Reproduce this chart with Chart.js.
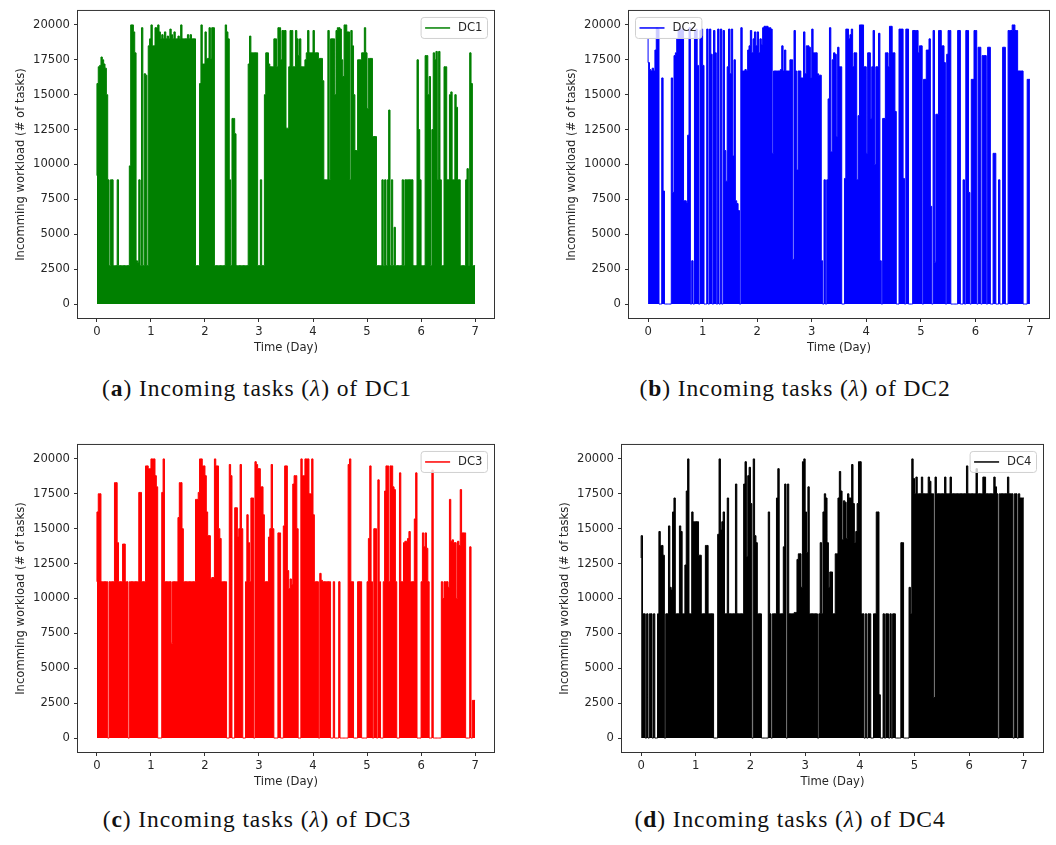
<!DOCTYPE html>
<html>
<head>
<meta charset="utf-8">
<script src="https://cdn.jsdelivr.net/npm/chart.js@4.4.1/dist/chart.umd.min.js"></script>
<style>
html,body{margin:0;padding:0;background:#fff;overflow:hidden;}
body{width:1056px;height:845px;position:relative;}
canvas{position:absolute;}
.cap{position:absolute;font-family:"Liberation Serif","Times New Roman",serif;font-size:23.5px;line-height:23px;color:#111;white-space:nowrap;transform:translateX(-50%);letter-spacing:0.9px;}
.cap b{font-weight:bold;}
</style>
</head>
<body>
<canvas id="cA" width="500" height="363" style="left:0px;top:0px;"></canvas>
<canvas id="cB" width="504" height="363" style="left:551px;top:0px;"></canvas>
<canvas id="cC" width="500" height="363" style="left:0px;top:434px;"></canvas>
<canvas id="cD" width="505" height="363" style="left:544px;top:434px;"></canvas>
<div class="cap" style="left:257px;top:377px;">(<b>a</b>) Incoming tasks (<i>λ</i>) of DC1</div>
<div class="cap" style="left:795px;top:377px;">(<b>b</b>) Incoming tasks (<i>λ</i>) of DC2</div>
<div class="cap" style="left:257px;top:808px;">(<b>c</b>) Incoming tasks (<i>λ</i>) of DC3</div>
<div class="cap" style="left:790px;top:808px;">(<b>d</b>) Incoming tasks (<i>λ</i>) of DC4</div>
<script>
// ---- data (sampled every 0.025 day = 40 samples per day) ----
const SAMPLES_PER_DAY = 40;
const xTickValues = [0, 1, 2, 3, 4, 5, 6, 7];
const yTickValues = [0, 2500, 5000, 7500, 10000, 12500, 15000, 17500, 20000];
const seriesNames = ['DC1', 'DC2', 'DC3', 'DC4'];
const xTitle = 'Time (Day)';
const yTitle = 'Incomming workload (# of tasks)';

const dc1 = [
  // day 0
  9200,15800,17000,17100,17700,17500,17200,16900,15000,8900,
  2750,8900,8900,2750,2750,2750,8900,2750,2750,2750,
  2750,2750,2750,2750,2750,9900,20000,20000,19500,18000,
  3100,3000,8900,2750,19800,2750,16500,16400,2750,18500,
  // day 1
  19000,20000,18500,18500,19800,19800,20000,19500,19000,19300,
  19000,19500,19000,19200,19000,19700,19300,19000,19500,19000,
  19000,19200,19000,20000,19000,19000,19000,19000,19300,19000,
  19300,19000,19000,19000,2750,2750,2750,15800,20000,17200,
  // day 2
  17200,19500,17600,17600,19800,17600,19800,19800,2750,2750,
  2750,2750,2750,2750,2750,2750,20000,19500,19000,8900,
  2750,13300,13300,12200,2750,2750,2750,2750,2750,2750,
  2750,2750,2750,17200,19200,18000,18000,18000,18000,18000,
  // day 3
  2750,2750,8900,2750,2750,15000,18000,18000,17200,17000,
  17000,17000,19000,19000,17000,19800,19800,17500,19600,19600,
  19600,12600,12600,17000,19600,19600,17000,17000,19600,19000,
  17800,19000,17000,17000,17000,17500,18000,19600,18000,18000,
  // day 4
  18000,19600,18000,18000,18000,17600,17600,17600,16000,8900,
  8900,8900,19600,8900,19000,19000,19000,15000,19600,19800,
  19800,19700,17500,16300,20000,20000,19500,19500,8900,19600,
  18500,15000,11000,11000,17500,17500,17500,18000,18000,19800,
  // day 5
  18000,14000,17600,17600,17600,12000,12000,12000,2750,2750,
  2750,2750,8900,2750,8900,2750,8900,13900,2750,8900,
  2750,5500,2750,2750,2750,2750,2750,8900,2750,8900,
  8900,8900,8900,8900,8900,2750,2750,2750,17500,12500,
  // day 6
  8900,2750,2750,2750,17800,17800,15000,16300,2750,12500,
  18000,17500,18100,8900,18100,8900,2750,2750,17000,17000,
  8900,8900,15000,15200,8900,8900,15000,14100,8900,8900,
  2750,2750,2750,2750,8900,9700,2750,18000,15800,2750
];

const dc2 = [
  // day 0
  19000,17300,16800,16700,16900,16700,18200,19800,19700,0,
  0,16200,8100,0,0,0,0,0,16200,8000,
  17800,18000,19000,19600,19800,19600,19700,7400,7400,7300,
  12100,19800,0,3100,0,19600,19700,17100,0,19600,
  // day 1
  19700,17100,0,0,19700,0,19700,17900,0,19600,
  18000,0,19700,0,19700,0,19600,11000,8800,17000,
  19700,16500,19700,10600,17500,7400,7200,6700,0,19800,
  16700,16700,16800,16700,18200,18500,19600,18000,19000,19500,
  // day 2
  18500,19500,18000,19000,18600,19800,19900,19900,19900,19800,
  19800,19700,10800,16700,16700,16700,16700,16700,16800,18500,
  16700,18200,16700,16700,16700,17500,17500,3200,19600,16700,
  9600,16700,16700,16200,16200,19500,16500,18500,18500,18400,
  // day 3
  16200,19700,18000,18000,18000,16500,16400,16400,3100,0,
  8900,0,8900,14700,19800,10900,17500,18000,17900,12000,
  18400,17000,17000,0,0,9000,19700,19700,19000,19300,
  19700,17000,18000,18000,8900,13500,20000,20000,20000,17000,
  // day 4
  17000,10800,18000,18000,13300,17000,19600,10000,17000,17000,
  19400,3100,0,13300,13300,18000,18000,17000,19900,19900,
  18000,18000,13800,0,0,19700,19700,19700,9000,0,
  19700,19700,0,0,0,19600,19600,19600,19600,18000,
  // day 5
  18500,18500,0,16100,16100,18200,18200,19000,7000,0,
  19600,3000,13600,13600,19600,19600,18500,18500,17300,0,
  17900,19600,19600,0,0,0,0,0,19600,19600,
  0,0,8900,0,19600,19600,8000,0,16100,16100,
  // day 6
  19600,19600,0,18400,18400,0,17800,17800,17800,0,
  18400,18400,0,0,10800,10800,0,0,8900,0,
  0,18400,18400,0,0,19600,19600,19600,20000,20000,
  19600,19600,16700,16700,16700,16700,0,0,0,16100
];

const dc3 = [
  // day 0
  11200,16200,17500,17500,11200,11200,11200,11200,11200,0,
  11200,11200,11200,11200,18300,18300,14000,11200,11200,11200,
  13900,13900,11200,11200,0,11200,11200,11200,11200,11200,
  11200,11200,17600,17600,11200,11200,11200,19500,19500,19300,
  // day 1
  19300,20000,20000,20000,18800,18000,0,0,0,17600,
  20000,11200,11200,11200,11200,11200,6800,11200,11200,11200,
  11200,15800,18300,18300,15000,11200,11200,11200,11200,11200,
  11200,11200,11200,11200,17100,17100,17600,20000,20000,19500,
  // day 2
  19500,18800,16200,14500,14500,11400,11500,11500,20000,19500,
  19500,15000,14300,11200,11200,11200,11200,0,0,19600,
  18800,0,0,16500,16500,14400,15000,19600,15000,0,
  0,11200,16000,14000,11200,17200,17200,0,19800,19600,
  // day 3
  19300,19300,18000,18000,16000,11200,11200,11200,14400,15000,
  19600,15000,0,0,0,14700,14700,0,0,15200,
  19500,19500,12000,10700,11400,11000,18200,18800,18800,15000,
  0,0,20000,18800,18800,20000,20000,20000,17500,17500,
  // day 4
  20000,16000,11200,11200,11200,0,11800,11300,11200,11200,
  11200,11200,11200,11200,0,0,11200,0,0,0,
  11200,0,0,0,0,0,0,19600,20000,11200,
  11200,0,0,0,11200,11200,11200,0,0,0,
  // day 5
  0,11200,14300,19500,11200,0,15000,15000,0,18500,
  11200,0,0,11200,17700,19500,19500,11200,19500,19500,
  18000,17800,11200,0,0,19000,11200,11200,14000,14100,
  14100,14300,14800,11200,11200,11200,15700,19000,0,0,
  // day 6
  0,11200,14700,13700,14700,13600,11200,0,0,19200,
  0,0,0,0,0,0,11200,10000,11200,11200,
  11200,10800,17100,14100,14200,14000,14000,10000,14100,13800,
  17800,14700,14700,14700,0,0,0,13700,0,2700
];

const dc4 = [
  // day 0
  12900,14500,8900,8900,0,8900,0,8900,8900,0,
  8900,0,0,8900,14800,13800,13800,13100,0,8900,
  8900,15200,10800,10600,16200,17200,8900,8900,8900,15200,
  14800,8900,8900,12400,17700,20000,8900,8900,16200,15500,
  // day 1
  15500,15500,15500,13100,13100,8900,8900,8900,13800,13800,
  8900,8900,8900,8900,0,0,0,14600,20000,14900,
  15500,16200,8900,8900,17200,8900,8900,8900,8900,8900,
  18200,8900,8900,8900,8900,8900,18200,19800,13000,18800,
  // day 2
  19400,16800,0,20000,14500,14000,8900,8900,8900,0,
  0,0,0,0,16200,8900,0,8900,8900,8900,
  17200,19300,8900,8900,8900,13700,18200,0,18200,8900,
  8900,8900,8900,9000,9000,12800,13200,13200,10800,19800,
  // day 3
  20000,16200,13300,18000,8900,8900,8900,8900,8900,8900,
  0,8900,14000,8900,16200,17500,17200,14000,10800,11900,
  11900,8900,8900,13200,13200,17200,19100,17700,14200,17000,
  16900,14300,17500,17200,17200,19600,16800,14000,14800,16800,
  // day 4
  19800,19800,8900,8900,0,8900,0,8900,8900,0,
  0,8900,8900,16200,16200,3100,0,0,8900,0,
  8900,8900,0,8900,0,8900,8900,0,0,0,
  0,14000,14000,0,0,0,0,10800,8900,20000,
  // day 5
  18600,17500,18700,17500,17500,17500,18700,17500,17500,17500,
  17500,18700,18400,17500,17500,2900,18700,17500,17500,17500,
  17500,17500,17500,18700,17500,17500,17500,18700,17500,17500,
  17500,17500,17500,17500,17500,17500,17500,17500,17500,19500,
  // day 6
  17500,17500,17500,17500,17500,17500,19300,17500,17500,17500,
  17500,18700,18700,17500,17500,17500,17500,17500,17500,18700,
  18000,17500,0,17500,17500,17500,17500,17500,17500,18700,
  17500,17500,17500,0,17500,17500,0,17500,17200,17200
];

const seriesValues = [dc1, dc2, dc3, dc4];
const seriesColors = ['#008000', '#0000ff', '#ff0000', '#000000'];
const legendSides = ['right', 'left', 'right', 'right'];
const canvasIds = ['cA', 'cB', 'cC', 'cD'];

// ---- rendering ----
const FONT = 'DejaVu Sans';
const FSIZE = 11.6;
const TXT = '#262626';

function toPoints(values) {
  const pts = values.map((v, i) => ({x: i / SAMPLES_PER_DAY, y: v}));
  pts.push({x: values.length / SAMPLES_PER_DAY, y: values[values.length - 1]});
  return pts;
}

const framePlugin = {
  id: 'frame',
  afterDatasetsDraw(chart) {
    const {ctx, chartArea: a} = chart;
    ctx.save();
    ctx.strokeStyle = '#333';
    ctx.lineWidth = 1;
    ctx.strokeRect(a.left - 0.5, a.top - 0.5, a.right - a.left + 1, a.bottom - a.top + 1);
    ctx.restore();
  }
};

const insideLegendPlugin = {
  id: 'insideLegend',
  afterDraw(chart, args, opts) {
    const {ctx, chartArea: a} = chart;
    const ds = chart.data.datasets[0];
    ctx.save();
    ctx.font = FSIZE + 'px "' + FONT + '"';
    const tw = ctx.measureText(ds.label).width;
    const w = 37 + tw + 5, h = 21;
    const x = opts.side === 'left' ? a.left + 6.5 : a.right - 6.5 - w;
    const y = a.top + 6.5;
    const r = 3;
    ctx.beginPath();
    ctx.moveTo(x + r, y);
    ctx.lineTo(x + w - r, y);
    ctx.quadraticCurveTo(x + w, y, x + w, y + r);
    ctx.lineTo(x + w, y + h - r);
    ctx.quadraticCurveTo(x + w, y + h, x + w - r, y + h);
    ctx.lineTo(x + r, y + h);
    ctx.quadraticCurveTo(x, y + h, x, y + h - r);
    ctx.lineTo(x, y + r);
    ctx.quadraticCurveTo(x, y, x + r, y);
    ctx.closePath();
    ctx.fillStyle = 'rgba(255,255,255,0.8)';
    ctx.fill();
    ctx.strokeStyle = '#d0d0d0';
    ctx.lineWidth = 1;
    ctx.stroke();
    ctx.beginPath();
    ctx.strokeStyle = ds.borderColor;
    ctx.lineWidth = 1.5;
    ctx.moveTo(x + 4, y + h / 2);
    ctx.lineTo(x + 29, y + h / 2);
    ctx.stroke();
    ctx.fillStyle = TXT;
    ctx.textBaseline = 'middle';
    ctx.textAlign = 'left';
    ctx.fillText(ds.label, x + 37, y + h / 2 + 0.5);
    ctx.restore();
  }
};

function makeChart(k) {
  const ctx = document.getElementById(canvasIds[k]);
  return new Chart(ctx, {
    type: 'line',
    data: {
      datasets: [{
        label: seriesNames[k],
        data: toPoints(seriesValues[k]),
        borderColor: seriesColors[k],
        backgroundColor: seriesColors[k],
        borderWidth: 1,
        pointRadius: 0,
        stepped: 'after',
        fill: 'origin',
        tension: 0
      }]
    },
    options: {
      responsive: false,
      animation: false,
      devicePixelRatio: 1,
      parsing: false,
      normalized: true,
      events: [],
      layout: {padding: {left: 0, top: 5, right: 6, bottom: 0}},
      plugins: {
        legend: {display: false},
        tooltip: {enabled: false},
        insideLegend: {side: legendSides[k]}
      },
      scales: {
        x: {
          type: 'linear',
          min: -0.35,
          max: 7.35,
          afterBuildTicks: s => { s.ticks = xTickValues.map(v => ({value: v})); },
          afterFit: s => { s.height = 45; },
          grid: {drawOnChartArea: false, drawTicks: true, tickLength: 4, color: '#333', lineWidth: 1},
          border: {display: false},
          ticks: {padding: 3, color: TXT, font: {family: FONT, size: FSIZE}, maxRotation: 0, autoSkip: false, callback: v => String(v)},
          title: {display: true, text: xTitle, color: TXT, font: {family: FONT, size: FSIZE, lineHeight: 1.2}, padding: {top: 0, bottom: 8}}
        },
        y: {
          type: 'linear',
          min: -1000,
          max: 21000,
          afterBuildTicks: s => { s.ticks = yTickValues.map(v => ({value: v})); },
          afterFit: s => { s.width = 78; },
          grid: {drawOnChartArea: false, drawTicks: true, tickLength: 4, color: '#333', lineWidth: 1},
          border: {display: false},
          ticks: {padding: 4, color: TXT, font: {family: FONT, size: FSIZE}, autoSkip: false, callback: v => String(v)},
          title: {display: true, text: yTitle, color: TXT, font: {family: FONT, size: FSIZE, lineHeight: 1.2}, padding: {top: 14, bottom: 0}}
        }
      }
    },
    plugins: [framePlugin, insideLegendPlugin]
  });
}

for (let k = 0; k < 4; k++) makeChart(k);
</script>
</body>
</html>
